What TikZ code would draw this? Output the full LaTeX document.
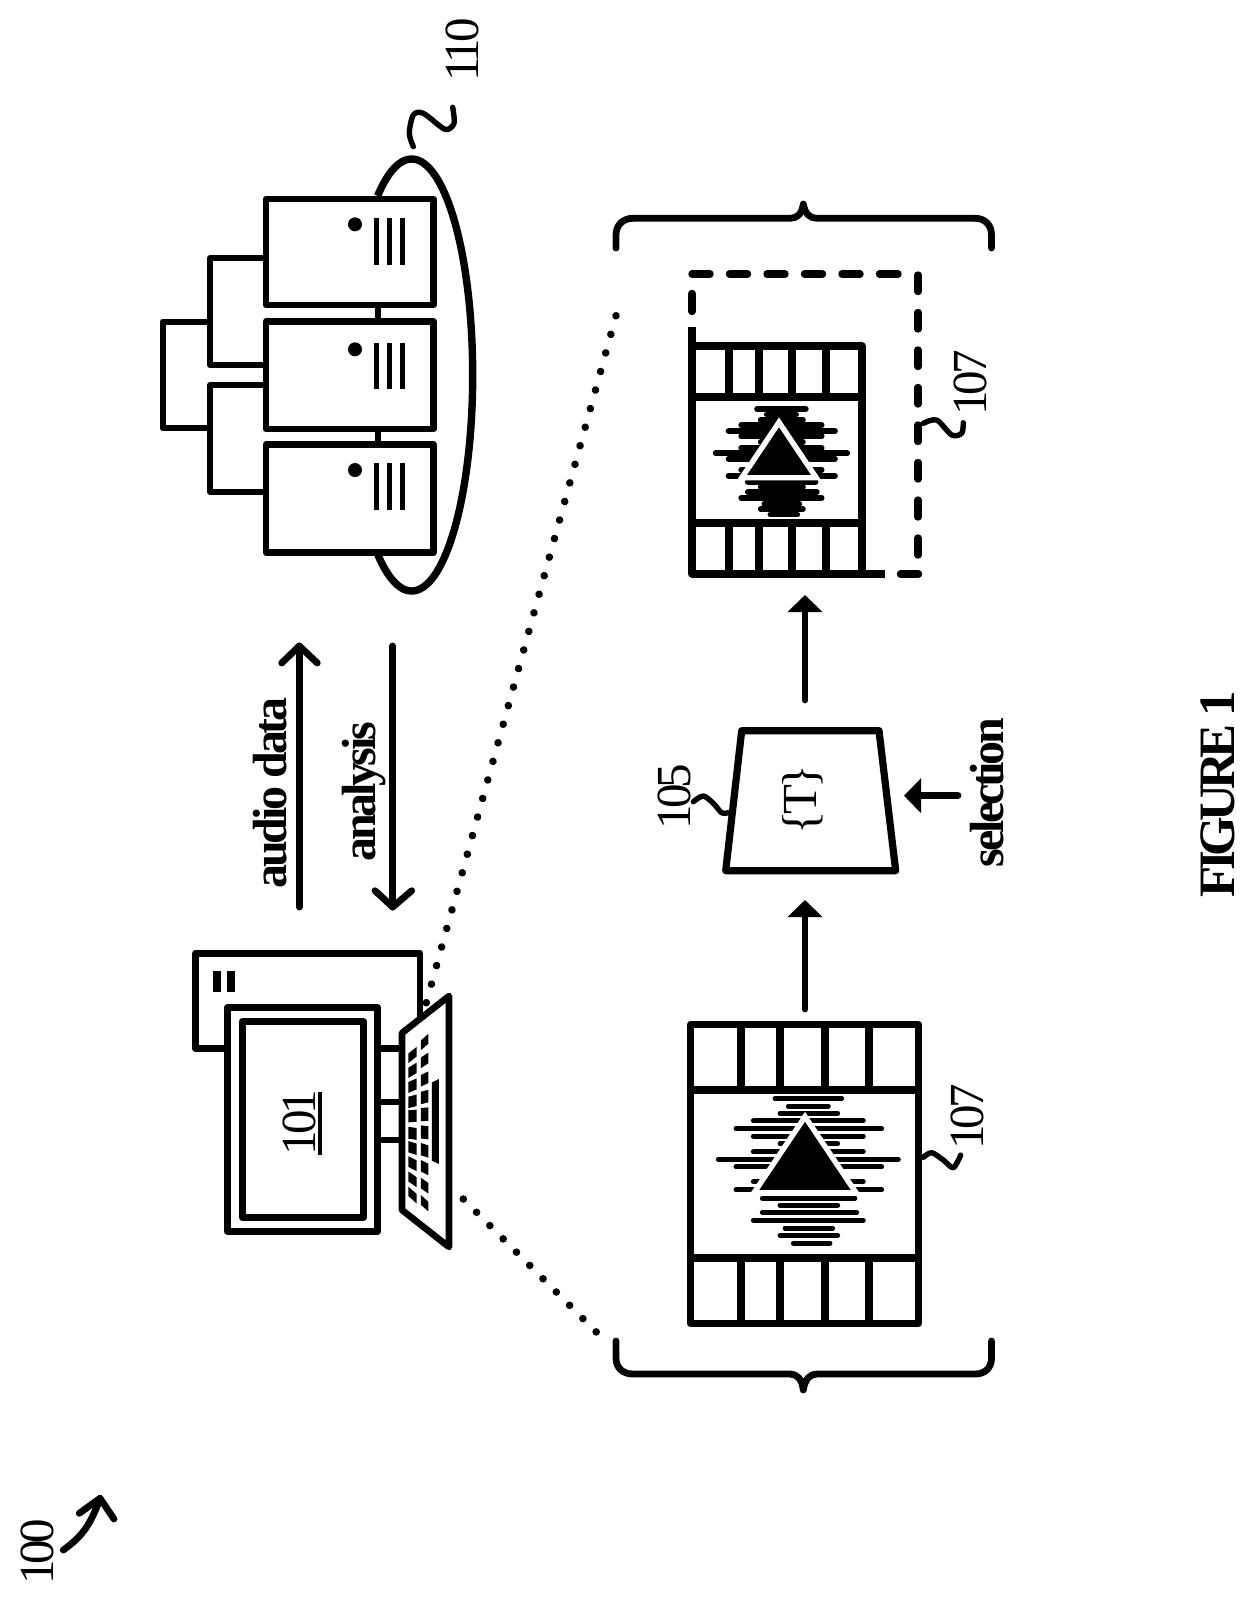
\documentclass[tikz,border=0pt]{standalone}
\usepackage{fontspec}
\setmainfont{Liberation Serif}
\newfontfamily\lblfont{Liberation Serif}[LetterSpace=-8]
\newfontfamily\boldtight{Liberation Serif Bold}[LetterSpace=-7]
\newfontfamily\figtight{Liberation Serif Bold}[LetterSpace=-10]
\usetikzlibrary{arrows.meta}
\tikzset{
  ink/.style={draw=black,line width=3.4pt,line join=round,line cap=round},
  boxink/.style={ink,fill=white,line cap=butt,line width=3.6pt},
  thin ink/.style={draw=black,line width=3.1pt,line join=round,line cap=butt},
  squig/.style={draw=black,line width=2.7pt,line cap=round,line join=round},
  flow/.style={draw=black,line width=3.4pt,line cap=round,-{Triangle[length=8.5pt,width=17pt]}},
  dots1/.style={draw=black,line width=3.8pt,line cap=round,dash pattern=on 0.01pt off 9.62pt},
  dots2/.style={draw=black,line width=3.8pt,line cap=round,dash pattern=on 0.01pt off 9.385pt},
  dashy/.style={draw=black,line width=3.7pt,line cap=round},
  lbl/.style={rotate=90,anchor=base,inner sep=0pt,font=\lblfont\fontsize{24.5}{24.5}\selectfont},
  blbl/.style={rotate=90,anchor=base,inner sep=0pt,font=\boldtight\fontsize{24}{24}\selectfont},
}
\newcommand{\filmwave}[1]{%
  \foreach \yy/\aa/\bb in {295/375/575,318/415/535,340/390/563,362/310/640,386/258/695,408/310/640,431/390/563,455/310/640,478/205/745,500/258/695,545/310/640,569/258/695,594/337/615,615/390/563,637/337/620,661/310/640,684/405/548,706/390/563,729/430/540}
    {\draw[draw=black,line width=#1,line cap=round] (\aa,\yy) -- (\bb,\yy);}
  \draw[fill=black,draw=white,line width=2.7pt,line join=miter] (465,350) -- (312,578) -- (618,578) -- cycle;
}
\newcommand{\filmbars}[6]{%
  \foreach \vx in \vlist {
    \draw[boxink] (\vx,#3) -- (\vx,#5);
    \draw[boxink] (\vx,#6) -- (\vx,#4);
  }
  \draw[boxink] (#1,#5) -- (#2,#5);
  \draw[boxink] (#1,#6) -- (#2,#6);
}
\begin{document}
\begin{tikzpicture}[x=0.5pt,y=-0.5pt]
\useasboundingbox (0,0) rectangle (1255,1602);

% server group ring
\draw[draw=black,line width=3.7pt] plot[domain=-124:124,samples=120] ({411.7+61*cos(\x)},{375+216*sin(\x)});
\draw[squig] plot[smooth] coordinates {(413.3,146.7) (409.3,133.3) (413.3,115) (423.3,113.3) (445,129.3) (454,123.3) (452.7,107.3)};
\node[lbl] (n110) at (478,50) {110};

% server wiring
\draw[thin ink] (266,258.3) -- (210.3,258.3) -- (210.3,365.3) -- (266,365.3);
\draw[thin ink] (266,385) -- (210.3,385) -- (210.3,491.7) -- (266,491.7);
\draw[thin ink] (210.3,321.7) -- (162.7,321.7) -- (162.7,428.3) -- (210.3,428.3);
\draw[thin ink] (378,305) -- (378,321.5);
\draw[thin ink] (378,429) -- (378,444.5);
% racks
\foreach \rt/\rb/\ry/\vt/\vb in {199/305/224.3/218.3/265, 321.5/429/349.3/342.7/389, 444.5/552.5/470/463.3/510} {
  \draw[boxink,line width=3.3pt] (266,\rt) rectangle (433.5,\rb);
  \fill (355,\ry) circle (3.5pt);
  \foreach \vx in {376.7,389.3,402.7} {\draw[draw=black,line width=2.5pt] (\vx,\vt) -- (\vx,\vb);}
}

% arrows between client and server
\coordinate (aud0) at (299.3,907);
\coordinate (aud1) at (299.3,646);
\coordinate (audL) at (281.7,663);
\coordinate (audR) at (317.3,663);
\draw[ink] (aud0) -- (aud1);
\draw[ink] (audL) -- (aud1) -- (audR);
\coordinate (ana0) at (392.7,646);
\coordinate (ana1) at (392.7,907);
\coordinate (anaL) at (375,890.7);
\coordinate (anaR) at (411.7,890.7);
\draw[ink] (ana0) -- (ana1);
\draw[ink] (anaL) -- (ana1) -- (anaR);
\node[blbl] (audio) at (286,793) {audio data};
\node[blbl] (analysis) at (375.7,791.7) {analysis};

% dotted zoom lines
\coordinate (dA0) at (426.3,1002.7);
\coordinate (dA1) at (616,315.7);
\draw[dots1] (dA0) -- (dA1);
\coordinate (dB0) at (463.3,1199);
\coordinate (dB1) at (596.5,1332.2);
\draw[dots2] (dB0) -- (dB1);

% computer
\draw[boxink,line width=3.4pt] (195.5,953.5) rectangle (420,1048.5);
\fill (213,971) rectangle (221,992);
\fill (227,971) rectangle (235,992);
\draw[thin ink] (378,1102) -- (402,1102);
\draw[thin ink] (378,1140) -- (402,1140);
\draw[boxink] (227.5,1007.5) rectangle (377.5,1231.5);
\draw[boxink] (242.5,1021.5) rectangle (363.5,1217.5);
\draw[boxink,line width=3.3pt] (402,1033) -- (449,996) -- (449,1247) -- (402,1210) -- cycle;
\begin{scope}[shift={(130,900)},scale=1/3]
  \foreach \yc in {465,511,557,604,648,700,744,791,838,885} {
    \pgfmathsetmacro{\dd}{(\yc-665)*0.10}
    \pgfmathsetmacro{\hh}{37-0.4*abs(\dd)}
    \fill (835,{\yc-\hh/2-\dd/2}) -- (860,{\yc-\hh/2+\dd/2}) -- (860,{\yc+\hh/2+\dd/2}) -- (835,{\yc+\hh/2-\dd/2}) -- cycle;
  }
  \foreach \yc in {426,481,537,591,643,697,751,803,857,910} {
    \pgfmathsetmacro{\dd}{(\yc-665)*0.08}
    \pgfmathsetmacro{\hh}{41-0.6*abs(\dd)}
    \fill (873,{\yc-\hh/2-\dd/2}) -- (895,{\yc-\hh/2+\dd/2}) -- (895,{\yc+\hh/2+\dd/2}) -- (873,{\yc+\hh/2-\dd/2}) -- cycle;
  }
  \fill (906,547) -- (927,537) -- (927,792) -- (906,782) -- cycle;
\end{scope}
\node[lbl] (n101) at (315,1122.5) {101};
\fill (318.3,1092.3) rectangle (322.3,1155);

% first film frame
\draw[boxink] (690.5,1024.5) rectangle (918.5,1323.5);
\def\vlist{741,780,825,869}
\filmbars{690.5}{918.5}{1024.5}{1323.5}{1090}{1258}
\begin{scope}[shift={(805,1170.7)},scale=1/3]
  \begin{scope}[shift={(-465,-512)}]\filmwave{2.45pt}\end{scope}
\end{scope}
\draw[squig] plot[smooth] coordinates {(923.3,1157.3) (931.7,1152.7) (943.3,1160) (953.3,1167.7) (960.7,1155)};
\node[lbl] (n107a) at (983,1117) {107};

% braces
\draw[ink] (616,1341) -- (616,1358) .. controls (616,1368) and (623,1374) .. (633,1374) -- (790,1374) .. controls (797,1374) and (802,1379) .. (803.3,1390) .. controls (805,1379) and (810,1374) .. (817,1374) -- (975,1374) .. controls (985,1374) and (991.5,1368) .. (991.5,1358) -- (991.5,1341);
\draw[ink] (616,248) -- (616,235) .. controls (616,225) and (623,218.3) .. (633,218.3) -- (790,218.3) .. controls (797,218.3) and (802,214) .. (803.3,204) .. controls (805,214) and (810,218.3) .. (817,218.3) -- (975,218.3) .. controls (985,218.3) and (991.5,225) .. (991.5,235) -- (991.5,248);

% flow arrows
\coordinate (f1) at (805,1009);
\coordinate (f2) at (805,900);
\draw[flow] (f1) -- (f2);
\coordinate (f3) at (805,700);
\coordinate (f4) at (805,595);
\draw[flow] (f3) -- (f4);
\coordinate (s1) at (958,795.7);
\coordinate (s2) at (904,795.7);
\draw[flow] (s1) -- (s2);

% selector
\draw[boxink] (741.7,730.7) -- (879,730.7) -- (895.7,870.7) -- (725.7,870.7) -- cycle;
\node[lbl] (setT) at (816.7,800) {\{T\}};
\draw[squig] plot[smooth] coordinates {(693.3,801.7) (703.3,796) (713.3,803.3) (721.7,812.7) (728.3,812.7)};
\node[lbl] (n105) at (690,796.7) {105};
\node[blbl] (sel) at (1003.3,792.5) {selection};

% second film frame
\draw[boxink,fill=none] (692,327) -- (692,574) -- (885,574);
\draw[boxink,fill=none] (692,346) -- (862,346) -- (862,574);
\def\vlist{729,759,792,826}
\filmbars{692}{862}{346}{574}{397}{523}
\begin{scope}[shift={(779,461.7)},scale=0.73/3]
  \begin{scope}[shift={(-465,-512)}]\filmwave{2.95pt}\end{scope}
\end{scope}
\foreach \ya/\yb in {275/291.5,312.5/329,350/366.5,387.5/404,425/441.5,462.5/479,500/517,538/555} {
  \draw[dashy] (918,\ya) -- (918,\yb);
}
\foreach \xa/\xb in {692/710,729.5/747.5,767/785,804.5/822.5,842/860,879.5/898} {
  \draw[dashy] (\xa,274) -- (\xb,274);
}
\draw[dashy] (692,293.5) -- (692,311.5);
\draw[dashy] (900.5,574) -- (918.5,574);
\draw[squig] plot[smooth] coordinates {(923.3,423.3) (936.7,420) (951.7,435) (961.7,433.3) (963.3,422.7)};
\node[lbl] (n107b) at (986,383) {107};

% reference 100
\coordinate (h0) at (63.3,1550);
\coordinate (h1) at (100,1498.3);
\coordinate (hL) at (79.3,1513.3);
\coordinate (hR) at (114,1519);
\draw[ink] (h0) .. controls (80,1538) and (90,1527) .. (h1);
\draw[ink] (hL) -- (h1) -- (hR);
\node[lbl] (n100) at (54,1552) {100};

% figure caption
\node[rotate=90,anchor=base,inner sep=0pt,font=\figtight\fontsize{25.5}{25.5}\selectfont] (fig) at (1234,794) {FIGURE 1};
\end{tikzpicture}
\end{document}
